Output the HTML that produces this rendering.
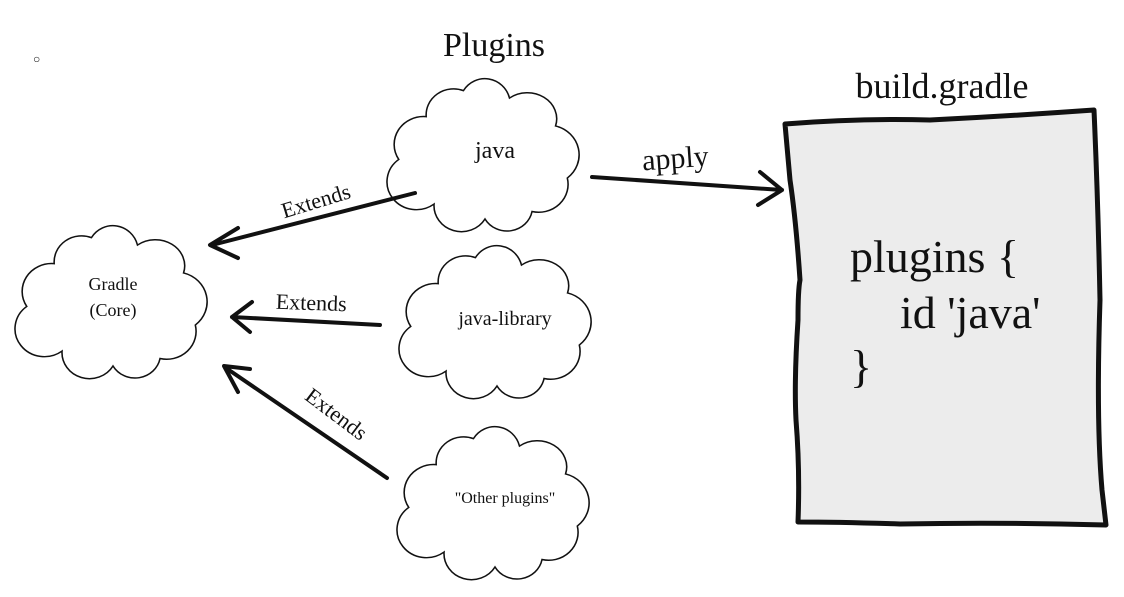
<!DOCTYPE html>
<html><head><style>
html,body{margin:0;padding:0;background:#fff;}
svg{display:block;}
text{font-family:"Liberation Serif",serif;fill:#111;}
</style></head><body>
<svg width="1124" height="597" viewBox="0 0 1124 597">
<defs>
<path id="cloud" fill="#fff" stroke="#111" stroke-width="1.6" d="M -88,8 A 30,30 0 0 1 -60,-38 A 28,28 0 0 1 -22,-66 A 26,28 0 0 1 25,-58 A 30,28 0 0 1 72,-28 A 32,32 0 0 1 84,28 A 30,30 0 0 1 48,64 A 26,26 0 0 1 0,72 A 28,28 0 0 1 -52,56 A 30,30 0 0 1 -88,8 Z"/>
</defs>
<text x="33" y="63" font-size="12" fill="#999">○</text>
<text x="494" y="56" font-size="34" text-anchor="middle">Plugins</text>
<text x="942" y="98" font-size="36" text-anchor="middle">build.gradle</text>

<use href="#cloud" transform="translate(113,299) scale(0.98,0.93)"/>
<use href="#cloud" transform="translate(485,152) scale(0.98,0.93)"/>
<use href="#cloud" transform="translate(497,319) scale(0.98,0.93)"/>
<use href="#cloud" transform="translate(495,500) scale(0.98,0.93)"/>

<text x="113" y="290" font-size="18" text-anchor="middle" font-family="Liberation Sans">Gradle</text>
<text x="113" y="316" font-size="18" text-anchor="middle" font-family="Liberation Sans">(Core)</text>
<text x="495" y="158" font-size="24" text-anchor="middle">java</text>
<text x="505" y="325" font-size="20" text-anchor="middle">java-library</text>
<text x="505" y="503" font-size="16" text-anchor="middle" font-family="Liberation Sans">"Other plugins"</text>

<g stroke="#111" stroke-width="4" fill="none" stroke-linecap="round" stroke-linejoin="round">
<path d="M415,193 L212,245 M238,228 L210,245 L238,258"/>
<path d="M592,177 L782,190 M760,172 L782,190 L758,205"/>
<path d="M380,325 L232,317 M252,302 L232,317 L250,332"/>
<path d="M387,478 L226,368 M250,369 L224,366 L238,392"/>
</g>
<text x="318" y="208" font-size="22" text-anchor="middle" transform="rotate(-17 318 208)">Extends</text>
<text x="311" y="310" font-size="22" text-anchor="middle" transform="rotate(2 311 310)">Extends</text>
<text x="332" y="420" font-size="22" text-anchor="middle" transform="rotate(37 332 420)">Extends</text>
<text x="676" y="168" font-size="30" text-anchor="middle" transform="rotate(-4 676 168)">apply</text>

<path d="M785,124 Q860,118 930,120 Q1010,116 1094,110 Q1098,200 1100,300 Q1096,420 1102,490 L1106,525 Q1000,522 900,524 Q840,522 798,522 Q800,470 796,420 Q794,380 798,320 Q798,290 800,280 Q796,220 790,180 Z" fill="#ececec" stroke="#111" stroke-width="5" stroke-linejoin="round"/>
<text x="850" y="272" font-size="46">plugins {</text>
<text x="900" y="328" font-size="46">id 'java'</text>
<text x="850" y="382" font-size="46">}</text>
</svg>
</body></html>
